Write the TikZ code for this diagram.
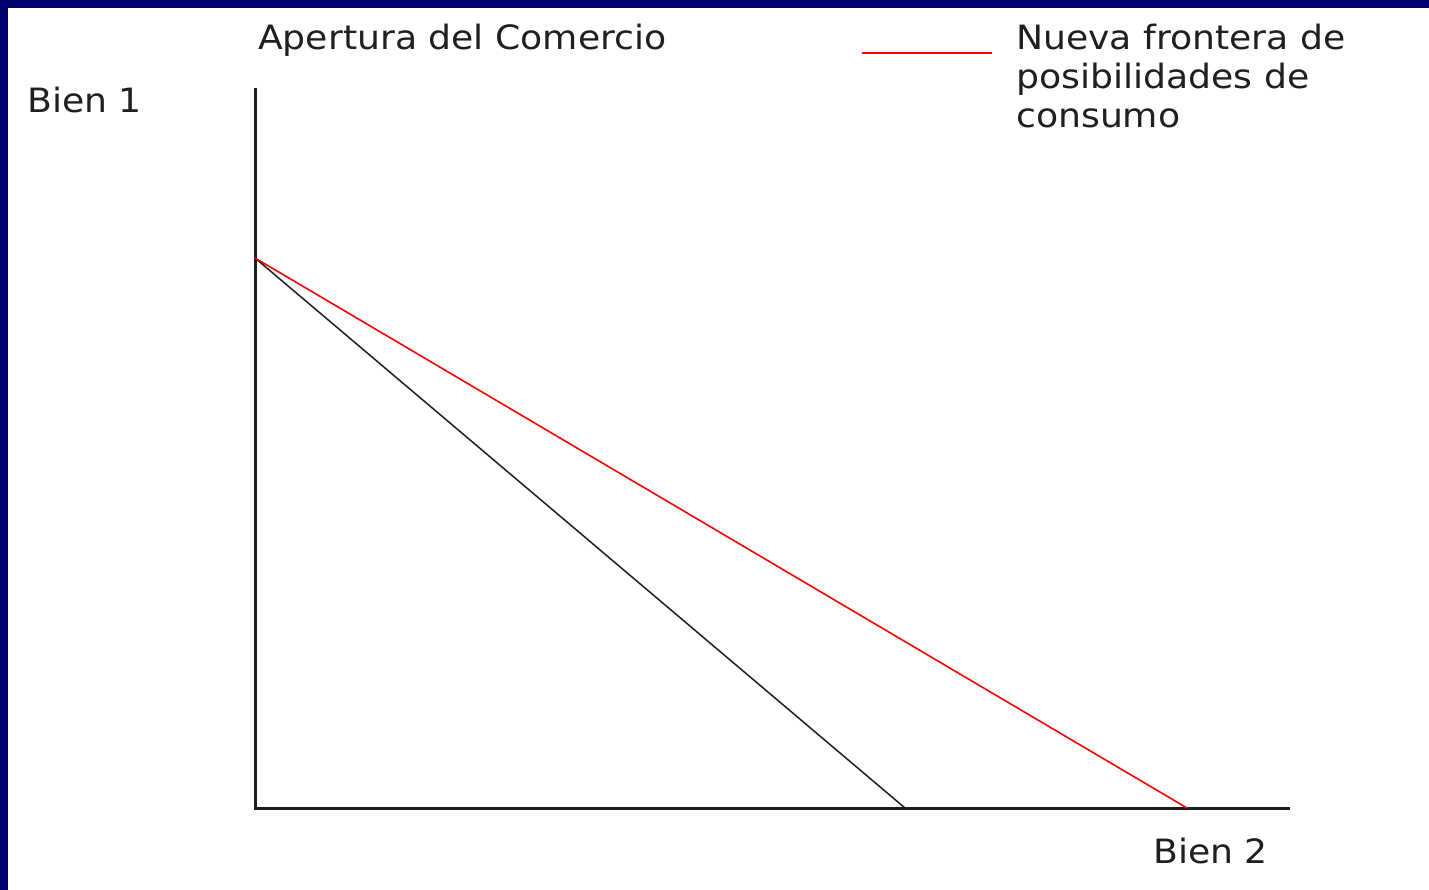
\documentclass[tikz,border=0pt]{standalone}
\usepackage{fontspec}
\setmainfont[FakeStretch=1.08]{DejaVu Sans}
\definecolor{navy}{RGB}{0,0,112}
\definecolor{axisgray}{RGB}{30,30,30}
\begin{document}
\begin{tikzpicture}[x=1pt,y=-1pt,
  lbl/.style={anchor=base west, inner sep=0pt, text=black!88, font=\fontsize{33.5}{39}\selectfont},
  axisline/.style={draw=axisgray, line width=3pt},
  frontier/.style={draw=axisgray, line width=1.5pt},
  newfrontier/.style={draw=red, line width=1.6pt}]
\useasboundingbox (0,0) rectangle (1429,890);
\fill[navy] (0,0) rectangle (1429,890);
\fill[white] (8,8) rectangle (1429,890);
% coordinates
\coordinate (O) at (255,808);
\coordinate (Ytop) at (255,88);
\coordinate (Xend) at (1290,808);
\coordinate (A) at (255,258);
\coordinate (B) at (905,808);
\coordinate (C) at (1187,808);
\coordinate (L1) at (862,53);
\coordinate (L2) at (992,53);
% axes
\draw[axisline] (Ytop) -- (O) -- (Xend);
% frontiers
\draw[frontier] (A) -- (B);
\draw[newfrontier] (A) -- (C);
\draw[newfrontier] (L1) -- (L2);
% labels
\node[lbl] (title) at (258,50) {Apertura del Comercio};
\node[lbl] (bien1) at (27,113) {Bien 1};
\node[lbl] (bien2) at (1153,863) {Bien 2};
\node[lbl, anchor=north west, align=left] (legend) at (1016,24) {Nueva frontera de\\posibilidades de\\consumo};
\end{tikzpicture}
\end{document}
